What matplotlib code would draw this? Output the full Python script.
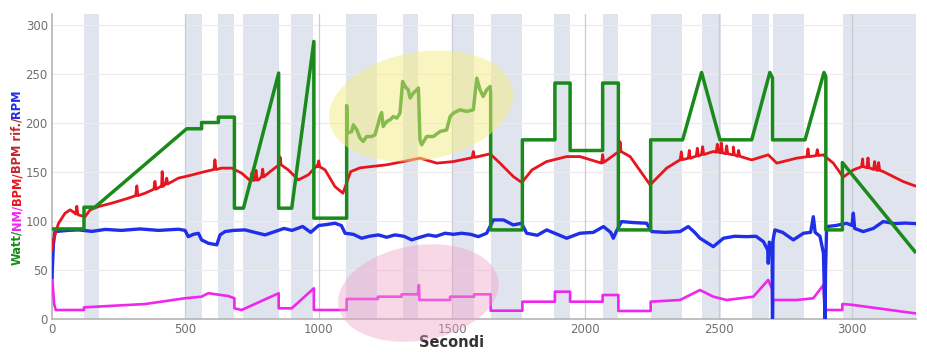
import matplotlib
matplotlib.use("Agg")
import matplotlib.pyplot as plt
import matplotlib.transforms as mtransforms
from matplotlib.patches import Ellipse
import numpy as np

# shaded intervals (seconds)
band_start = [120, 502, 622, 716, 896, 1102, 1316, 1500, 1646, 1882, 2066, 2246, 2437, 2625, 2703, 2966]
band_end = [176, 562, 682, 851, 979, 1219, 1372, 1582, 1762, 1942, 2122, 2362, 2508, 2688, 2820, 3240]

# Watt
watt_t = [0, 120, 120, 161, 505, 561, 561, 624, 624, 684, 684, 718, 850, 850, 899, 982, 982,
          1105, 1105, 1107, 1124, 1130, 1143, 1155, 1167, 1180, 1199, 1211, 1224, 1230, 1236,
          1242, 1255, 1268, 1280, 1293, 1305, 1315, 1324, 1336, 1343, 1355, 1368, 1374, 1380,
          1386, 1405, 1430, 1455, 1480, 1493, 1505, 1530, 1555, 1580, 1593, 1605, 1617, 1630,
          1643, 1645, 1645, 1764, 1764, 1886, 1886, 1943, 1943, 2065, 2065, 2124, 2124, 2245,
          2245, 2365, 2436, 2505, 2624, 2692, 2702, 2702, 2824, 2895, 2902, 2902, 2964, 2964, 3236]
watt_v = [91.5, 91.5, 113.7, 113.7, 193.8, 193.8, 200.2, 200.2, 205.7, 205.7, 112.7, 112.7, 250.7,
          112.7, 112.7, 283, 102.5, 102.5, 217.6, 189.4, 191.0, 197.9, 192.7, 184.3, 180.8, 185.9,
          185.9, 187.6, 199.6, 206.3, 210.4, 196.1, 201.2, 203.0, 206.3, 204.7, 209.8, 242.1,
          237.0, 233.6, 225.2, 230.3, 233.6, 235.4, 182.5, 177.4, 185.9, 185.9, 191.0, 192.7,
          206.3, 209.8, 213.2, 211.5, 213.2, 245.6, 233.6, 226.8, 233.6, 237.0, 230.3, 90.5,
          90.5, 182.5, 182.5, 240.5, 240.5, 171.6, 171.6, 240.5, 240.5, 90.5, 90.5, 182.5,
          182.5, 251.3, 182.5, 182.5, 251.3, 245.6, 182.5, 182.5, 251.3, 247, 90.5, 90.5,
          159.3, 68.3]

# BPM
bpm_t = [0, 5, 24, 49, 68, 86, 99, 124, 143, 174, 224, 286, 349, 411, 474, 511, 574, 636, 674,
         711, 743, 774, 811, 855, 886, 924, 961, 993, 1024, 1061, 1091, 1120, 1155, 1255, 1380,
         1443, 1505, 1568, 1643, 1680, 1730, 1762, 1800, 1855, 1930, 1980, 2061, 2130, 2168,
         2243, 2305, 2355, 2393, 2480, 2555, 2624, 2686, 2718, 2793, 2892, 2930, 2967, 3005,
         3042, 3117, 3192, 3236]
bpm_v = [70, 80, 97, 107.6, 111, 107.6, 105.8, 104, 111, 114.3, 117.8, 122.9, 128, 134.8, 143.4,
         145.7, 150.1, 153.6, 153.6, 148.5, 140.9, 141.6, 148.5, 157, 151.8, 141.6, 146.7, 155.9,
         151.8, 134.8, 128, 150, 153.9, 157, 163.8, 158.7, 160.3, 163.8, 168.2, 158.7, 145,
         138.9, 151.8, 160.3, 165.4, 165.4, 158.7, 170.6, 165.4, 136.5, 153.6, 162, 163.8,
         170.6, 167.2, 162, 167.2, 158.7, 163.8, 167.2, 158.7, 144.4, 151.8, 155.2, 150.1,
         139.9, 135.5]
bpm_spike_t = [93, 318, 386, 413, 430, 611, 750, 765, 790, 855, 1000, 1580, 2065, 2130, 2360,
               2390, 2420, 2440, 2495, 2510, 2530, 2555, 2575, 2835, 2870, 3040, 3060, 3085, 3100]
bpm_spike_h = [8, 10, 8, 15, 6, 10, 8, 10, 8, 8, 6, 6, 8, 10, 8, 8, 8, 8, 8, 10, 8, 8, 6, 8, 6,
               8, 10, 8, 8]

# RPM
rpm_t = [0, 5, 11, 60, 99, 150, 200, 260, 330, 400, 474, 499, 511, 530, 549, 561, 586, 618, 630,
         649, 680, 724, 760, 799, 836, 870, 900, 940, 970, 1000, 1030, 1061, 1085, 1099, 1130,
         1161, 1190, 1224, 1255, 1286, 1320, 1349, 1380, 1411, 1440, 1474, 1505, 1536, 1570,
         1599, 1630, 1655, 1693, 1730, 1761, 1780, 1820, 1855, 1895, 1930, 1980, 2030, 2068,
         2095, 2105, 2118, 2136, 2180, 2230, 2249, 2300, 2355, 2386, 2410, 2430, 2480, 2518,
         2560, 2605, 2640, 2668, 2684, 2686, 2690, 2700, 2702, 2704, 2711, 2740, 2780, 2818,
         2845, 2855, 2862, 2880, 2893, 2899, 2901, 2905, 2940, 2980, 3000, 3005, 3010, 3042,
         3080, 3117, 3160, 3200, 3236]
rpm_v = [42, 75, 88.8, 90, 90.5, 89, 91, 90, 91.5, 90, 91.2, 90, 83.6, 86, 87, 80.3, 76.9, 75.2,
         85.4, 88.8, 90, 90.5, 88, 85.4, 88.8, 92, 90, 94, 88, 95, 96, 97.3, 95, 87.1, 86, 82, 84,
         85.4, 83, 85.4, 84, 80.3, 83, 85.4, 84, 87.1, 86, 87.1, 86, 83.6, 87.1, 100.7, 100.7,
         95.6, 97.3, 87.1, 85, 90.5, 86, 82, 87.1, 88, 93.9, 88, 82, 90, 99, 98, 97.3, 88.8, 88,
         88.8, 93.9, 88, 82, 73.4, 82, 84, 83.6, 84, 78.5, 70, 56.4, 78, 75, 0, 80, 90.5, 88,
         80.3, 87.1, 88, 104, 88, 84, 66.7, 0, 50, 93.9, 95, 97.3, 95, 107.6, 92, 88.8, 92, 99,
         97, 97.5, 97]

# NM
nm_t = [0, 8, 14, 120, 120, 349, 499, 561, 586, 660, 684, 684, 711, 850, 850, 899, 982, 982,
        1105, 1105, 1222, 1222, 1311, 1311, 1372, 1376, 1378, 1493, 1493, 1583, 1583, 1645,
        1645, 1764, 1764, 1886, 1886, 1943, 1943, 2065, 2065, 2124, 2124, 2245, 2245, 2355,
        2430, 2480, 2530, 2630, 2686, 2700, 2702, 2704, 2793, 2855, 2893, 2899, 2902, 2964,
        2964, 3000, 3236]
nm_v = [45, 15, 8.7, 8.7, 11.4, 14.8, 20.7, 22.3, 25.8, 23, 20.7, 10.4, 8.7, 25.8, 10.4, 10.4,
        30.9, 8.7, 8.7, 19.9, 19.9, 22.3, 22.3, 24.7, 24.7, 34.3, 18.9, 18.9, 22.3, 22.3, 24.7,
        24.7, 8.0, 8.0, 17.2, 17.2, 27.4, 27.4, 17.2, 17.2, 24, 24, 7.7, 7.7, 17.2, 18.9, 29.1,
        22.3, 18.9, 22.3, 39.4, 30, 0, 18.9, 18.9, 20.7, 34.3, 0, 8.7, 8.7, 14.8, 14, 5.3]

GREEN = "#1a8a1a"
RED = "#e8141e"
BLUE = "#1f2ee8"
MAGENTA = "#f025ee"

fig = plt.figure(figsize=(9.27, 3.56), dpi=100)
ax = fig.add_axes([0.0561, 0.1053, 0.932, 0.8553])

for s, e in zip(band_start, band_end):
    ax.axvspan(s, e, color="#dfe4ee", lw=0, zorder=0)

# red with its small spikes
bt = list(bpm_t)
bv = list(bpm_v)
for t, h in zip(bpm_spike_t, bpm_spike_h):
    b = float(np.interp(t, bpm_t, bpm_v))
    bt += [t - 4, t, t + 4]
    bv += [b, b + h, b]
order = np.argsort(bt, kind="stable")
bt = np.array(bt)[order]
bv = np.array(bv)[order]

ax.plot(nm_t, nm_v, color=MAGENTA, lw=1.9, zorder=3)
ax.plot(rpm_t, rpm_v, color=BLUE, lw=2.4, zorder=4)
ax.plot(bt, bv, color=RED, lw=2.0, zorder=5)
ax.plot(watt_t, watt_v, color=GREEN, lw=2.5, zorder=6)

ax.set_xlim(0, 3240)
ax.set_ylim(0, 311)
ax.set_xticks(range(0, 3001, 500))
ax.set_yticks(range(0, 301, 50))
ax.grid(axis="y", color="#ebebeb", lw=0.8, zorder=1)
for x in range(500, 3001, 500):
    ax.axvline(x, color="#c9ccd3", lw=0.9, zorder=1)
ax.set_axisbelow(True)
ax.tick_params(length=0, labelsize=8.5, labelcolor="#707070", pad=3)
for side in ["top", "right"]:
    ax.spines[side].set_visible(False)
for side in ["left", "bottom"]:
    ax.spines[side].set_color("#b5b5b5")
    ax.spines[side].set_linewidth(1.2)

ax.set_xlabel("Secondi", fontsize=10.5, fontweight="bold", color="#333333")
ax.xaxis.set_label_coords(0.463, -0.055)

# highlight ellipses (centre in data, size in inches)
def highlight(cx, cy, w, h, ang, col, a):
    tr = fig.dpi_scale_trans + mtransforms.ScaledTranslation(cx, cy, ax.transData)
    ax.add_patch(Ellipse((0, 0), w, h, angle=ang, transform=tr, facecolor=col,
                         alpha=a, lw=0, zorder=10, clip_on=False))

highlight(1384, 217, 1.86, 1.08, 10, "#f5ec82", 0.5)
highlight(1374, 26, 1.62, 0.95, 9.5, "#f0a0c8", 0.42)

# multi-coloured y label
parts = ["Watt/", "NM/", "BPM/", "BPM rif./", "RPM"]
colors = [GREEN, MAGENTA, RED, "#c0282d", BLUE]
renderer = fig.canvas.get_renderer()
tr = fig.transFigure
for p, c in zip(parts, colors):
    txt = fig.text(0.0183, 0.2556, p, color=c, rotation=90, ha="center", va="bottom",
                   fontsize=8.3, fontweight="bold", transform=tr)
    txt.draw(renderer)
    ex = txt.get_window_extent(renderer)
    tr = mtransforms.offset_copy(txt.get_transform(), fig=fig, y=ex.height - 0.3, units="dots")

fig.savefig("out.png", dpi=100)
